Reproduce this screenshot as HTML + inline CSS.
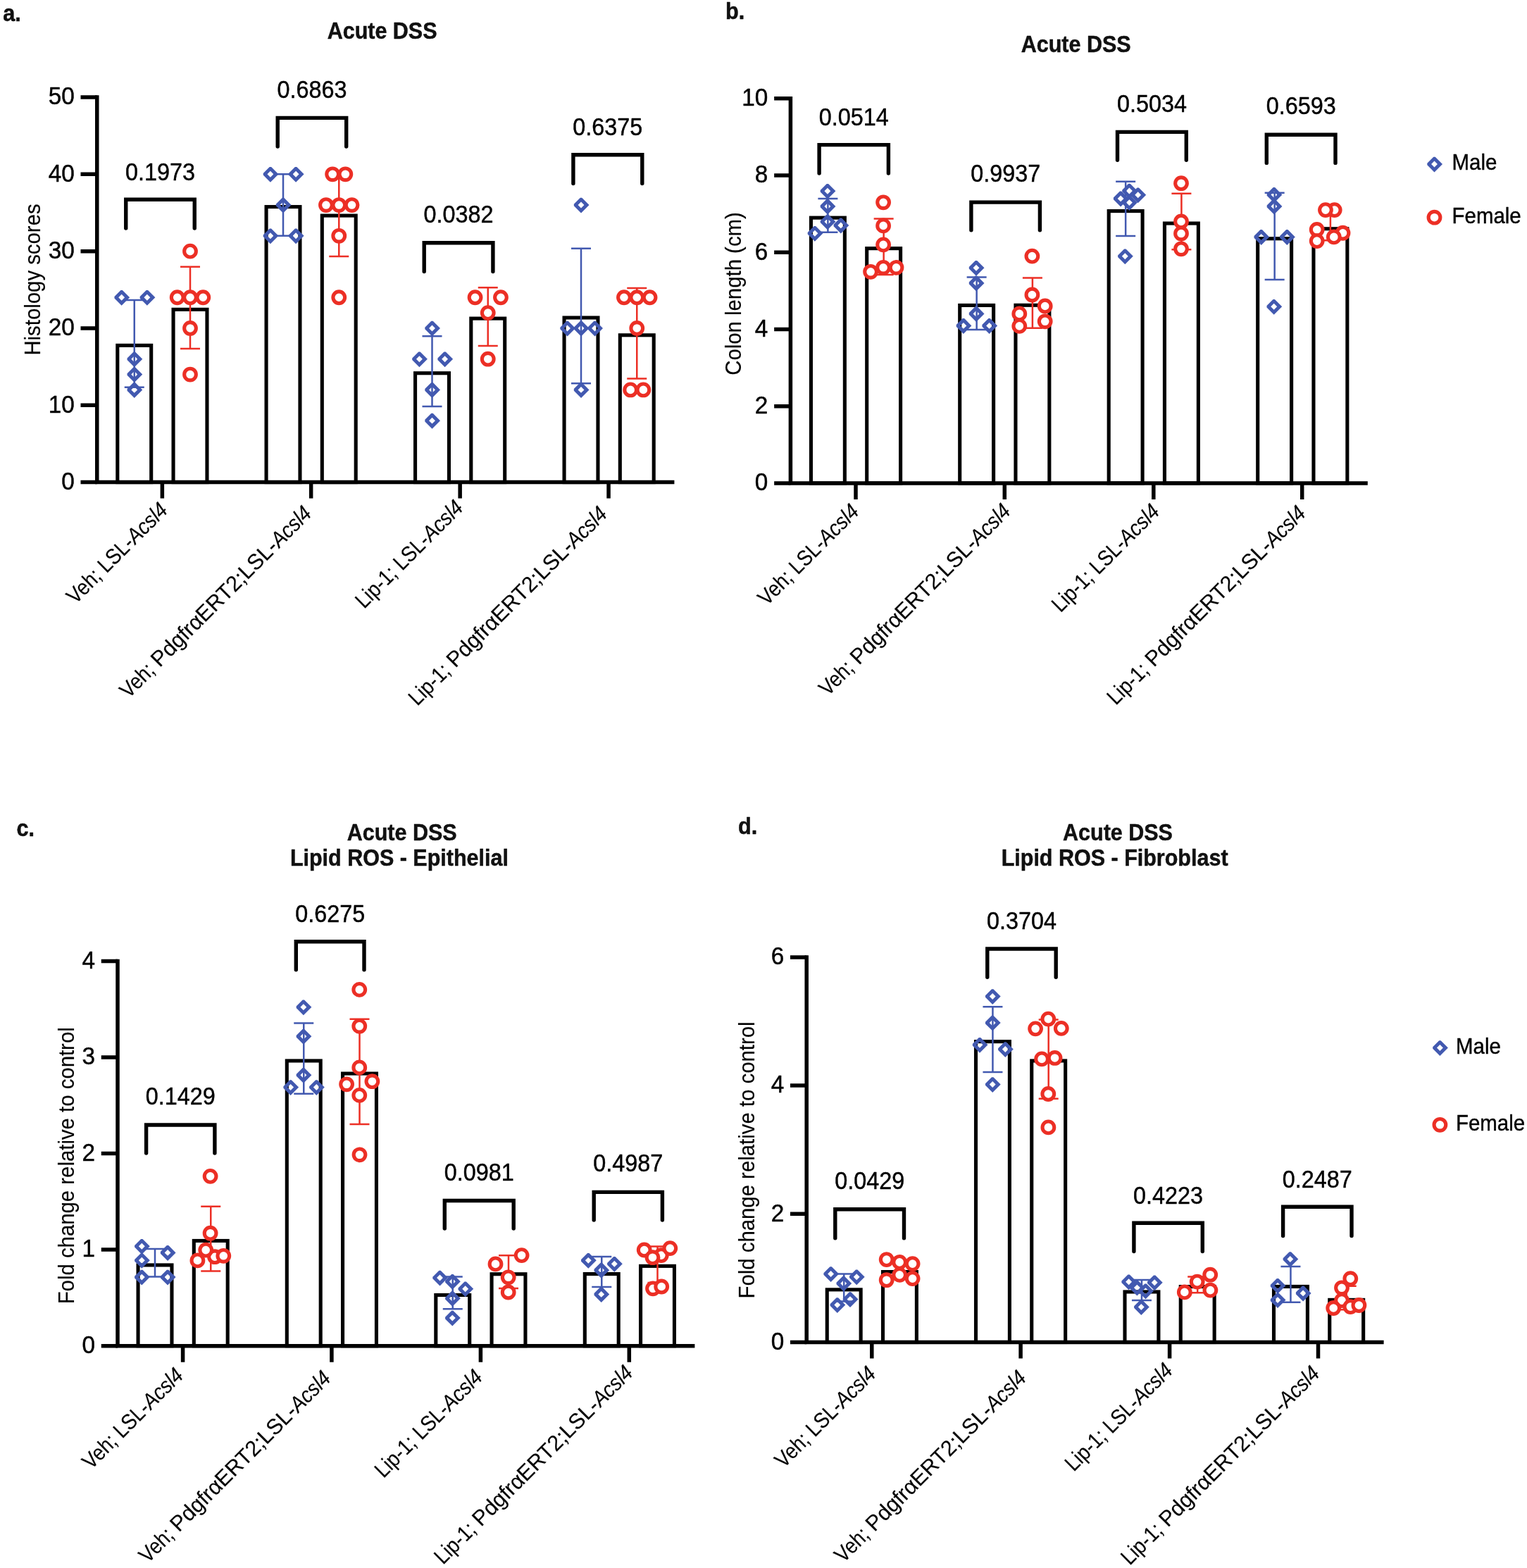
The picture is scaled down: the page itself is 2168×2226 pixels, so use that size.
<!DOCTYPE html>
<html lang="en">
<head>
<meta charset="utf-8">
<title>Acute DSS figure</title>
<style>
html,body{margin:0;padding:0;background:#ffffff;}
body{width:2168px;height:2226px;overflow:hidden;}
svg{display:block;font-family:"Liberation Sans",Arial,Helvetica,sans-serif;fill:#000000;}
text{stroke:#000000;stroke-width:0.45px;stroke-linejoin:round;}
.bar{fill:none;stroke:#000000;stroke-width:5.1;}
.ax{fill:none;stroke:#000000;stroke-width:5.5;}
.br{fill:none;stroke:#000000;stroke-width:5.4;stroke-linecap:round;stroke-linejoin:miter;}
.eb{fill:none;stroke:#4259B0;stroke-width:2.5;}
.er{fill:none;stroke:#EC2F25;stroke-width:2.5;}
.tk{font-size:34.9px;text-anchor:end;}
.pv{font-size:35.2px;text-anchor:middle;}
.yl{font-size:31px;text-anchor:middle;stroke-width:0.15px;}
.xl{font-size:31px;stroke-width:0.15px;}
.it{font-style:italic;}
.tt{font-size:32.9px;font-weight:bold;text-anchor:middle;fill:#111111;}
.lt{font-size:32.3px;font-weight:bold;fill:#111111;}
.lg{font-size:32px;}
#d{fill:#4259B0;fill-rule:evenodd;stroke:none;}
#c{fill:#ffffff;stroke:#EC2F25;stroke-width:5.1;}
</style>
</head>
<body>
<svg xmlns="http://www.w3.org/2000/svg" width="2168" height="2226" viewBox="0 0 2168 2226">
<defs>
<path id="d" d="M11.5 0L0 11.5L-10.2 1.3L-10.2 -1.3L-1.2 -10.3L1.2 -10.3ZM4.45 0L0 4.45 L-4.45 0L0 -4.45Z"/>
<circle id="c" cx="0" cy="0" r="8.35"/>
</defs>
<rect width="2168" height="2226" fill="#ffffff"/>
<g>
<rect class="bar" x="166.8" y="490.37" width="47.9" height="194.23"/>
<rect class="bar" x="246.05" y="439.35" width="47.9" height="245.25"/>
<rect class="bar" x="378.05" y="293.6" width="47.9" height="391"/>
<rect class="bar" x="457.3" y="306.09" width="47.9" height="378.51"/>
<rect class="bar" x="589.55" y="529.73" width="47.9" height="154.87"/>
<rect class="bar" x="668.8" y="452.11" width="47.9" height="232.49"/>
<rect class="bar" x="801.05" y="451.02" width="47.9" height="233.58"/>
<rect class="bar" x="880.3" y="475.8" width="47.9" height="208.8"/>
<path class="ax" d="M137.75 135.25V684.6H957.4"/>
<path class="ax" d="M114.5 684.6H137.75M114.5 575.28H137.75M114.5 465.96H137.75M114.5 356.64H137.75M114.5 247.32H137.75M114.5 138H137.75M230.35 684.6V707.55M441.65 684.6V707.55M653.15 684.6V707.55M864.05 684.6V707.55"/>
<text class="tk" transform="translate(105.75 694.9) scale(0.955 1)">0</text>
<text class="tk" transform="translate(105.75 585.58) scale(0.955 1)">10</text>
<text class="tk" transform="translate(105.75 476.26) scale(0.955 1)">20</text>
<text class="tk" transform="translate(105.75 366.94) scale(0.955 1)">30</text>
<text class="tk" transform="translate(105.75 257.62) scale(0.955 1)">40</text>
<text class="tk" transform="translate(105.75 148.3) scale(0.955 1)">50</text>
<text class="yl" transform="translate(57 397) rotate(-90) scale(0.947 1)">Histology scores</text>
<text class="tt" transform="translate(542.6 54.8) scale(0.927 1)">Acute DSS</text>
<text class="lt" transform="translate(4.2 30.3) scale(0.95 1)">a.</text>
<text class="xl" transform="translate(107.1 858.76) rotate(-45) scale(0.885 1)">Veh; LSL-</text><text class="xl it" transform="translate(192.33 773.53) rotate(-45) scale(0.885 1)">Acsl4</text>
<text class="xl" transform="translate(182.58 992.46) rotate(-45) scale(0.885 1)">Veh; </text><text class="xl" transform="translate(226.82 948.22) rotate(-45) scale(0.981 1)">PdgfrαERT2;LSL-</text><text class="xl it" transform="translate(396.63 778.41) rotate(-45) scale(0.885 1)">Acsl4</text>
<text class="xl" transform="translate(517.08 864.93) rotate(-45) scale(0.885 1)">Lip-1; LSL-</text><text class="xl it" transform="translate(611.95 770.06) rotate(-45) scale(0.885 1)">Acsl4</text>
<text class="xl" transform="translate(592.59 1003.01) rotate(-45) scale(0.885 1)">Lip-1; </text><text class="xl" transform="translate(646.53 949.07) rotate(-45) scale(0.981 1)">PdgfrαERT2;LSL-</text><text class="xl it" transform="translate(816.34 779.26) rotate(-45) scale(0.885 1)">Acsl4</text>
<path class="eb" d="M176.75 425.98H204.75M176.75 549.67H204.75M190.75 425.98V549.67"/>
<use href="#d" x="172.65" y="422.23"/>
<use href="#d" x="208.85" y="422.23"/>
<use href="#d" x="190.75" y="509.69"/>
<use href="#d" x="190.75" y="531.55"/>
<use href="#d" x="190.75" y="553.42"/>
<path class="er" d="M256 378.68H284M256 494.93H284M270 378.68V494.93"/>
<use href="#c" x="270" y="356.64"/>
<use href="#c" x="251.7" y="422.23"/>
<use href="#c" x="270" y="422.23"/>
<use href="#c" x="288.3" y="422.23"/>
<use href="#c" x="270" y="465.96"/>
<use href="#c" x="270" y="531.55"/>
<path class="eb" d="M388 247.32H416M388 334.78H416M402 247.32V334.78"/>
<use href="#d" x="383.9" y="247.32"/>
<use href="#d" x="420.1" y="247.32"/>
<use href="#d" x="402" y="291.05"/>
<use href="#d" x="383.9" y="334.78"/>
<use href="#d" x="420.1" y="334.78"/>
<path class="er" d="M467.25 243.19H495.25M467.25 363.9H495.25M481.25 243.19V363.9"/>
<use href="#c" x="472.15" y="247.32"/>
<use href="#c" x="490.35" y="247.32"/>
<use href="#c" x="462.95" y="291.05"/>
<use href="#c" x="481.25" y="291.05"/>
<use href="#c" x="499.55" y="291.05"/>
<use href="#c" x="481.25" y="334.78"/>
<use href="#c" x="481.25" y="422.23"/>
<path class="eb" d="M599.5 477.32H627.5M599.5 577.04H627.5M613.5 477.32V577.04"/>
<use href="#d" x="613.5" y="465.96"/>
<use href="#d" x="595.4" y="509.69"/>
<use href="#d" x="631.6" y="509.69"/>
<use href="#d" x="613.5" y="553.42"/>
<use href="#d" x="613.5" y="597.14"/>
<path class="er" d="M678.75 408.17H706.75M678.75 490.95H706.75M692.75 408.17V490.95"/>
<use href="#c" x="674.55" y="422.23"/>
<use href="#c" x="710.95" y="422.23"/>
<use href="#c" x="692.75" y="444.1"/>
<use href="#c" x="692.75" y="509.69"/>
<path class="eb" d="M811 352.66H839M811 544.28H839M825 352.66V544.28"/>
<use href="#d" x="825" y="291.05"/>
<use href="#d" x="805.5" y="465.96"/>
<use href="#d" x="825" y="465.96"/>
<use href="#d" x="844.5" y="465.96"/>
<use href="#d" x="825" y="553.42"/>
<path class="er" d="M890.25 408.88H918.25M890.25 537.62H918.25M904.25 408.88V537.62"/>
<use href="#c" x="885.95" y="422.23"/>
<use href="#c" x="904.25" y="422.23"/>
<use href="#c" x="922.55" y="422.23"/>
<use href="#c" x="904.25" y="465.96"/>
<use href="#c" x="895.15" y="553.42"/>
<use href="#c" x="913.35" y="553.42"/>
<path class="br" d="M178.75 324V283.25H276.25V324"/>
<text class="pv" transform="translate(227.5 256.25) scale(0.92 1)">0.1973</text>
<path class="br" d="M394.2 208V167.4H491.7V208"/>
<text class="pv" transform="translate(442.95 138.9) scale(0.92 1)">0.6863</text>
<path class="br" d="M602.2 385.5V344.7H699.9V385.5"/>
<text class="pv" transform="translate(651.05 316.4) scale(0.92 1)">0.0382</text>
<path class="br" d="M813.9 260.5V219.7H911.8V260.5"/>
<text class="pv" transform="translate(862.85 191.8) scale(0.92 1)">0.6375</text>
</g>
<g>
<rect class="bar" x="1151.45" y="309.15" width="47.9" height="376.85"/>
<rect class="bar" x="1230.7" y="352.65" width="47.9" height="333.35"/>
<rect class="bar" x="1362.7" y="433.45" width="47.9" height="252.55"/>
<rect class="bar" x="1441.95" y="433.3" width="47.9" height="252.7"/>
<rect class="bar" x="1574.2" y="299.6" width="47.9" height="386.4"/>
<rect class="bar" x="1653.45" y="317.05" width="47.9" height="368.95"/>
<rect class="bar" x="1785.7" y="338.75" width="47.9" height="347.25"/>
<rect class="bar" x="1864.95" y="324.75" width="47.9" height="361.25"/>
<path class="ax" d="M1122.4 137.05V686H1941.8"/>
<path class="ax" d="M1099.15 686H1122.4M1099.15 576.76H1122.4M1099.15 467.52H1122.4M1099.15 358.28H1122.4M1099.15 249.04H1122.4M1099.15 139.8H1122.4M1215 686V708.95M1426.3 686V708.95M1637.8 686V708.95M1848.7 686V708.95"/>
<text class="tk" transform="translate(1090.4 696.3) scale(0.955 1)">0</text>
<text class="tk" transform="translate(1090.4 587.06) scale(0.955 1)">2</text>
<text class="tk" transform="translate(1090.4 477.82) scale(0.955 1)">4</text>
<text class="tk" transform="translate(1090.4 368.58) scale(0.955 1)">6</text>
<text class="tk" transform="translate(1090.4 259.34) scale(0.955 1)">8</text>
<text class="tk" transform="translate(1090.4 150.1) scale(0.955 1)">10</text>
<text class="yl" transform="translate(1052 417) rotate(-90) scale(0.947 1)">Colon length (cm)</text>
<text class="tt" transform="translate(1527.7 73.6) scale(0.927 1)">Acute DSS</text>
<text class="lt" transform="translate(1030 26.5) scale(0.95 1)">b.</text>
<text class="xl" transform="translate(1088.57 860.94) rotate(-45) scale(0.885 1)">Veh; LSL-</text><text class="xl it" transform="translate(1173.8 775.71) rotate(-45) scale(0.885 1)">Acsl4</text>
<text class="xl" transform="translate(1175.15 989.2) rotate(-45) scale(0.885 1)">Veh; </text><text class="xl" transform="translate(1219.39 944.95) rotate(-45) scale(0.981 1)">PdgfrαERT2;LSL-</text><text class="xl it" transform="translate(1389.2 775.14) rotate(-45) scale(0.885 1)">Acsl4</text>
<text class="xl" transform="translate(1505.69 870.58) rotate(-45) scale(0.885 1)">Lip-1; LSL-</text><text class="xl it" transform="translate(1600.56 775.71) rotate(-45) scale(0.885 1)">Acsl4</text>
<text class="xl" transform="translate(1584.31 1002.01) rotate(-45) scale(0.885 1)">Lip-1; </text><text class="xl" transform="translate(1638.26 948.06) rotate(-45) scale(0.981 1)">PdgfrαERT2;LSL-</text><text class="xl it" transform="translate(1808.07 778.25) rotate(-45) scale(0.885 1)">Acsl4</text>
<path class="eb" d="M1161.4 282.1H1189.4M1161.4 329.8H1189.4M1175.4 282.1V329.8"/>
<use href="#d" x="1174.9" y="271.2"/>
<use href="#d" x="1174.9" y="292.9"/>
<use href="#d" x="1174.9" y="314.7"/>
<use href="#d" x="1193.8" y="319.9"/>
<use href="#d" x="1156.9" y="331.2"/>
<path class="er" d="M1240.65 310.4H1268.65M1240.65 390H1268.65M1254.65 310.4V390"/>
<use href="#c" x="1254.1" y="287.3"/>
<use href="#c" x="1254.1" y="320.4"/>
<use href="#c" x="1254.1" y="347.4"/>
<use href="#c" x="1236.1" y="385.8"/>
<use href="#c" x="1254.1" y="379.8"/>
<use href="#c" x="1272.5" y="379.8"/>
<path class="eb" d="M1372.65 393.4H1400.65M1372.65 468.1H1400.65M1386.65 393.4V468.1"/>
<use href="#d" x="1386" y="380.2"/>
<use href="#d" x="1386" y="401.9"/>
<use href="#d" x="1386" y="445.4"/>
<use href="#d" x="1367.9" y="462.4"/>
<use href="#d" x="1404.6" y="462.4"/>
<path class="er" d="M1451.9 394.4H1479.9M1451.9 465.7H1479.9M1465.9 394.4V465.7"/>
<use href="#c" x="1465.4" y="363.6"/>
<use href="#c" x="1465.4" y="418.5"/>
<use href="#c" x="1483.7" y="434.5"/>
<use href="#c" x="1447.3" y="445.4"/>
<use href="#c" x="1483.7" y="456.3"/>
<use href="#c" x="1447.3" y="462.9"/>
<path class="eb" d="M1584.15 257.8H1612.15M1584.15 334.9H1612.15M1598.15 257.8V334.9"/>
<use href="#d" x="1603.4" y="271.05"/>
<use href="#d" x="1615.7" y="276.7"/>
<use href="#d" x="1591.1" y="281.9"/>
<use href="#d" x="1603.4" y="287.6"/>
<use href="#d" x="1597.3" y="363.7"/>
<path class="er" d="M1663.4 274.8H1691.4M1663.4 354.2H1691.4M1677.4 274.8V354.2"/>
<use href="#c" x="1677" y="260.2"/>
<use href="#c" x="1677" y="314.5"/>
<use href="#c" x="1677" y="331.55"/>
<use href="#c" x="1677" y="353.3"/>
<path class="eb" d="M1795.65 273.8H1823.65M1795.65 396.9H1823.65M1809.65 273.8V396.9"/>
<use href="#d" x="1808.9" y="276.4"/>
<use href="#d" x="1808.9" y="292.9"/>
<use href="#d" x="1790.7" y="336.4"/>
<use href="#d" x="1827.3" y="336.4"/>
<use href="#d" x="1808.7" y="435.3"/>
<path class="er" d="M1874.9 302.8H1902.9M1874.9 341.3H1902.9M1888.9 302.8V341.3"/>
<use href="#c" x="1894.7" y="298.1"/>
<use href="#c" x="1881.95" y="298.1"/>
<use href="#c" x="1869.7" y="326"/>
<use href="#c" x="1906.5" y="330.75"/>
<use href="#c" x="1893.8" y="336.4"/>
<use href="#c" x="1869.7" y="342.1"/>
<path class="br" d="M1163.1 246V205.6H1261.4V246"/>
<text class="pv" transform="translate(1212.25 177.7) scale(0.92 1)">0.0514</text>
<path class="br" d="M1378.9 326.8V287.1H1476.4V326.8"/>
<text class="pv" transform="translate(1427.65 258.4) scale(0.92 1)">0.9937</text>
<path class="br" d="M1586.5 227.2V187.4H1684.3V227.2"/>
<text class="pv" transform="translate(1635.4 159.3) scale(0.92 1)">0.5034</text>
<path class="br" d="M1798.3 231.4V191.2H1896V231.4"/>
<text class="pv" transform="translate(1847.15 162.4) scale(0.92 1)">0.6593</text>
</g>
<g>
<rect class="bar" x="196.05" y="1795.95" width="47.9" height="114.75"/>
<rect class="bar" x="275.3" y="1761.45" width="47.9" height="149.25"/>
<rect class="bar" x="407.3" y="1505.95" width="47.9" height="404.75"/>
<rect class="bar" x="486.55" y="1524.05" width="47.9" height="386.65"/>
<rect class="bar" x="618.8" y="1838.5" width="47.9" height="72.2"/>
<rect class="bar" x="698.05" y="1808.75" width="47.9" height="101.95"/>
<rect class="bar" x="830.3" y="1808.55" width="47.9" height="102.15"/>
<rect class="bar" x="909.55" y="1797.35" width="47.9" height="113.35"/>
<path class="ax" d="M167 1361.65V1910.7H986.4"/>
<path class="ax" d="M143.75 1910.7H167M143.75 1774.12H167M143.75 1637.55H167M143.75 1500.98H167M143.75 1364.4H167M259.6 1910.7V1933.65M470.9 1910.7V1933.65M682.4 1910.7V1933.65M893.3 1910.7V1933.65"/>
<text class="tk" transform="translate(135 1921) scale(0.955 1)">0</text>
<text class="tk" transform="translate(135 1784.42) scale(0.955 1)">1</text>
<text class="tk" transform="translate(135 1647.85) scale(0.955 1)">2</text>
<text class="tk" transform="translate(135 1511.28) scale(0.955 1)">3</text>
<text class="tk" transform="translate(135 1374.7) scale(0.955 1)">4</text>
<text class="yl" transform="translate(104.8 1654.8) rotate(-90) scale(0.947 1)">Fold change relative to control</text>
<text class="tt" transform="translate(570.7 1193) scale(0.927 1)">Acute DSS</text>
<text class="tt" transform="translate(566.9 1229.3) scale(0.927 1)">Lipid ROS - Epithelial</text>
<text class="lt" transform="translate(23.5 1186.8) scale(0.95 1)">c.</text>
<text class="xl" transform="translate(129.28 2087.27) rotate(-45) scale(0.885 1)">Veh; LSL-</text><text class="xl it" transform="translate(214.51 2002.03) rotate(-45) scale(0.885 1)">Acsl4</text>
<text class="xl" transform="translate(209.78 2220.19) rotate(-45) scale(0.885 1)">Veh; </text><text class="xl" transform="translate(254.02 2175.95) rotate(-45) scale(0.981 1)">PdgfrαERT2;LSL-</text><text class="xl it" transform="translate(423.83 2006.13) rotate(-45) scale(0.885 1)">Acsl4</text>
<text class="xl" transform="translate(544.49 2099.24) rotate(-45) scale(0.885 1)">Lip-1; LSL-</text><text class="xl it" transform="translate(639.36 2004.37) rotate(-45) scale(0.885 1)">Acsl4</text>
<text class="xl" transform="translate(629.12 2222.11) rotate(-45) scale(0.885 1)">Lip-1; </text><text class="xl" transform="translate(683.07 2168.17) rotate(-45) scale(0.981 1)">PdgfrαERT2;LSL-</text><text class="xl it" transform="translate(852.88 1998.36) rotate(-45) scale(0.885 1)">Acsl4</text>
<path class="eb" d="M206 1772.9H234M206 1812.6H234M220 1772.9V1812.6"/>
<use href="#d" x="201.3" y="1769.3"/>
<use href="#d" x="238.05" y="1778.4"/>
<use href="#d" x="201.3" y="1789.2"/>
<use href="#d" x="201.3" y="1813.1"/>
<use href="#d" x="238.05" y="1813.1"/>
<path class="er" d="M285.25 1712.7H313.25M285.25 1804.6H313.25M299.25 1712.7V1804.6"/>
<use href="#c" x="298.6" y="1669.85"/>
<use href="#c" x="298.6" y="1750.7"/>
<use href="#c" x="305" y="1784.2"/>
<use href="#c" x="292.2" y="1774.6"/>
<use href="#c" x="317.3" y="1782.8"/>
<use href="#c" x="280.4" y="1789.4"/>
<path class="eb" d="M417.25 1452.6H445.25M417.25 1552.8H445.25M431.25 1452.6V1552.8"/>
<use href="#d" x="430.85" y="1429.8"/>
<use href="#d" x="430.85" y="1471.2"/>
<use href="#d" x="430.85" y="1526.3"/>
<use href="#d" x="412.6" y="1543.55"/>
<use href="#d" x="449.3" y="1543.55"/>
<path class="er" d="M496.5 1446.65H524.5M496.5 1595.9H524.5M510.5 1446.65V1595.9"/>
<use href="#c" x="510.26" y="1404.9"/>
<use href="#c" x="510.26" y="1456.8"/>
<use href="#c" x="510.26" y="1515.4"/>
<use href="#c" x="528.4" y="1535.2"/>
<use href="#c" x="492.1" y="1539.3"/>
<use href="#c" x="510.26" y="1554.9"/>
<use href="#c" x="510.5" y="1639.3"/>
<path class="eb" d="M628.75 1812.6H656.75M628.75 1858.2H656.75M642.75 1812.6V1858.2"/>
<use href="#d" x="624.5" y="1814"/>
<use href="#d" x="642.3" y="1819.2"/>
<use href="#d" x="660.7" y="1829.8"/>
<use href="#d" x="642.3" y="1843.2"/>
<use href="#d" x="642.3" y="1871.1"/>
<path class="er" d="M708 1782.3H736M708 1828.9H736M722 1782.3V1828.9"/>
<use href="#c" x="740.6" y="1782.1"/>
<use href="#c" x="703.5" y="1794.4"/>
<use href="#c" x="721.7" y="1813.3"/>
<use href="#c" x="721.7" y="1834.5"/>
<path class="eb" d="M840.25 1783.96H868.25M840.25 1827H868.25M854.25 1783.96V1827"/>
<use href="#d" x="835.25" y="1789.35"/>
<use href="#d" x="872.3" y="1794.2"/>
<use href="#d" x="853.7" y="1803.15"/>
<use href="#d" x="853.7" y="1837.4"/>
<path class="er" d="M919.5 1769.5H947.5M919.5 1820.9H947.5M933.5 1769.5V1820.9"/>
<use href="#c" x="938.8" y="1782.1"/>
<use href="#c" x="914.7" y="1774.5"/>
<use href="#c" x="951.3" y="1772.1"/>
<use href="#c" x="926.5" y="1785.2"/>
<use href="#c" x="927" y="1829.3"/>
<use href="#c" x="939.2" y="1826.5"/>
<path class="br" d="M207.6 1637V1597H304.9V1637"/>
<text class="pv" transform="translate(256.25 1568.4) scale(0.92 1)">0.1429</text>
<path class="br" d="M420.3 1376.8V1336.8H517V1376.8"/>
<text class="pv" transform="translate(468.65 1308.7) scale(0.92 1)">0.6275</text>
<path class="br" d="M631.3 1744V1704.5H729.2V1744"/>
<text class="pv" transform="translate(680.25 1675.6) scale(0.92 1)">0.0981</text>
<path class="br" d="M843.2 1732V1692.4H940.4V1732"/>
<text class="pv" transform="translate(891.8 1663.4) scale(0.92 1)">0.4987</text>
</g>
<g>
<rect class="bar" x="1174.25" y="1830.85" width="47.9" height="74.65"/>
<rect class="bar" x="1253.5" y="1805.55" width="47.9" height="99.95"/>
<rect class="bar" x="1385.5" y="1478.65" width="47.9" height="426.85"/>
<rect class="bar" x="1464.75" y="1505.95" width="47.9" height="399.55"/>
<rect class="bar" x="1597" y="1833.95" width="47.9" height="71.55"/>
<rect class="bar" x="1676.25" y="1826.55" width="47.9" height="78.95"/>
<rect class="bar" x="1808.5" y="1826.45" width="47.9" height="79.05"/>
<rect class="bar" x="1887.75" y="1845.35" width="47.9" height="60.15"/>
<path class="ax" d="M1145.2 1356.15V1905.5H1964.6"/>
<path class="ax" d="M1121.95 1905.5H1145.2M1121.95 1723.3H1145.2M1121.95 1541.1H1145.2M1121.95 1358.9H1145.2M1237.8 1905.5V1928.45M1449.1 1905.5V1928.45M1660.6 1905.5V1928.45M1871.5 1905.5V1928.45"/>
<text class="tk" transform="translate(1113.2 1915.8) scale(0.955 1)">0</text>
<text class="tk" transform="translate(1113.2 1733.6) scale(0.955 1)">2</text>
<text class="tk" transform="translate(1113.2 1551.4) scale(0.955 1)">4</text>
<text class="tk" transform="translate(1113.2 1369.2) scale(0.955 1)">6</text>
<text class="yl" transform="translate(1070.6 1647) rotate(-90) scale(0.947 1)">Fold change relative to control</text>
<text class="tt" transform="translate(1587 1192.5) scale(0.927 1)">Acute DSS</text>
<text class="tt" transform="translate(1582.6 1229.3) scale(0.927 1)">Lipid ROS - Fibroblast</text>
<text class="lt" transform="translate(1048 1184) scale(0.95 1)">d.</text>
<text class="xl" transform="translate(1112.57 2085.18) rotate(-45) scale(0.885 1)">Veh; LSL-</text><text class="xl it" transform="translate(1197.8 1999.94) rotate(-45) scale(0.885 1)">Acsl4</text>
<text class="xl" transform="translate(1197.31 2219.66) rotate(-45) scale(0.885 1)">Veh; </text><text class="xl" transform="translate(1241.55 2175.41) rotate(-45) scale(0.981 1)">PdgfrαERT2;LSL-</text><text class="xl it" transform="translate(1411.37 2005.6) rotate(-45) scale(0.885 1)">Acsl4</text>
<text class="xl" transform="translate(1524.53 2090.08) rotate(-45) scale(0.885 1)">Lip-1; LSL-</text><text class="xl it" transform="translate(1619.4 1995.21) rotate(-45) scale(0.885 1)">Acsl4</text>
<text class="xl" transform="translate(1604 2223.06) rotate(-45) scale(0.885 1)">Lip-1; </text><text class="xl" transform="translate(1657.94 2169.12) rotate(-45) scale(0.981 1)">PdgfrαERT2;LSL-</text><text class="xl it" transform="translate(1827.75 1999.31) rotate(-45) scale(0.885 1)">Acsl4</text>
<path class="eb" d="M1184.2 1808.5H1212.2M1184.2 1847.6H1212.2M1198.2 1808.5V1847.6"/>
<use href="#d" x="1179.6" y="1808.5"/>
<use href="#d" x="1216.2" y="1812.8"/>
<use href="#d" x="1197.7" y="1821.95"/>
<use href="#d" x="1207" y="1844.6"/>
<use href="#d" x="1188.8" y="1852.5"/>
<path class="er" d="M1263.45 1790H1291.45M1263.45 1815.5H1291.45M1277.45 1790V1815.5"/>
<use href="#c" x="1258.7" y="1788.1"/>
<use href="#c" x="1277.15" y="1791.9"/>
<use href="#c" x="1295.6" y="1794.1"/>
<use href="#c" x="1258.7" y="1817.2"/>
<use href="#c" x="1295.6" y="1815.1"/>
<use href="#c" x="1277.15" y="1809.85"/>
<path class="eb" d="M1395.45 1429.35H1423.45M1395.45 1522.1H1423.45M1409.45 1429.35V1522.1"/>
<use href="#d" x="1409.2" y="1414.5"/>
<use href="#d" x="1409.2" y="1452.1"/>
<use href="#d" x="1391" y="1483.3"/>
<use href="#d" x="1427.3" y="1489.5"/>
<use href="#d" x="1409.2" y="1539.5"/>
<path class="er" d="M1474.7 1447.4H1502.7M1474.7 1559.7H1502.7M1488.7 1447.4V1559.7"/>
<use href="#c" x="1488.3" y="1446.65"/>
<use href="#c" x="1470.1" y="1460.35"/>
<use href="#c" x="1506.8" y="1459.9"/>
<use href="#c" x="1497.55" y="1501.95"/>
<use href="#c" x="1479.1" y="1503.4"/>
<use href="#c" x="1488.3" y="1553"/>
<use href="#c" x="1488.4" y="1600.4"/>
<path class="eb" d="M1606.95 1817H1634.95M1606.95 1845.9H1634.95M1620.95 1817V1845.9"/>
<use href="#d" x="1602.6" y="1819.8"/>
<use href="#d" x="1639.2" y="1820.7"/>
<use href="#d" x="1614.4" y="1828.1"/>
<use href="#d" x="1626.5" y="1832.8"/>
<use href="#d" x="1620.3" y="1855.5"/>
<path class="er" d="M1686.2 1812.5H1714.2M1686.2 1835.2H1714.2M1700.2 1812.5V1835.2"/>
<use href="#c" x="1699.7" y="1819.6"/>
<use href="#c" x="1718.2" y="1809.7"/>
<use href="#c" x="1718.4" y="1831.6"/>
<use href="#c" x="1681.8" y="1834.4"/>
<path class="eb" d="M1818.45 1797.9H1846.45M1818.45 1848.75H1846.45M1832.45 1797.9V1848.75"/>
<use href="#d" x="1831.8" y="1787.5"/>
<use href="#d" x="1814" y="1825.3"/>
<use href="#d" x="1850.1" y="1835.9"/>
<use href="#d" x="1814" y="1845.6"/>
<path class="er" d="M1897.7 1825.7H1925.7M1897.7 1859.3H1925.7M1911.7 1825.7V1859.3"/>
<use href="#c" x="1917.3" y="1815.2"/>
<use href="#c" x="1905" y="1828.3"/>
<use href="#c" x="1905" y="1846.1"/>
<use href="#c" x="1917.3" y="1855.1"/>
<use href="#c" x="1929.4" y="1853"/>
<use href="#c" x="1893.2" y="1857"/>
<path class="br" d="M1185.8 1757.7V1716.8H1283.5V1757.7"/>
<text class="pv" transform="translate(1234.65 1688) scale(0.92 1)">0.0429</text>
<path class="br" d="M1401.8 1387.2V1347H1499.2V1387.2"/>
<text class="pv" transform="translate(1450.5 1319.2) scale(0.92 1)">0.3704</text>
<path class="br" d="M1609.9 1776.6V1736.2H1707.3V1776.6"/>
<text class="pv" transform="translate(1658.6 1709) scale(0.92 1)">0.4223</text>
<path class="br" d="M1821.6 1754.5V1713.3H1919V1754.5"/>
<text class="pv" transform="translate(1870.3 1685.9) scale(0.92 1)">0.2487</text>
</g>
<use href="#d" x="2036.5" y="233"/><text class="lg" transform="translate(2061.6 241) scale(0.92 1)">Male</text>
<use href="#c" x="2036.5" y="308.7"/><text class="lg" transform="translate(2061.6 316.7) scale(0.92 1)">Female</text>
<use href="#d" x="2044.4" y="1487.5"/><text class="lg" transform="translate(2067 1495.5) scale(0.92 1)">Male</text>
<use href="#c" x="2044.4" y="1596.8"/><text class="lg" transform="translate(2067 1604.8) scale(0.92 1)">Female</text>
</svg>
</body>
</html>
